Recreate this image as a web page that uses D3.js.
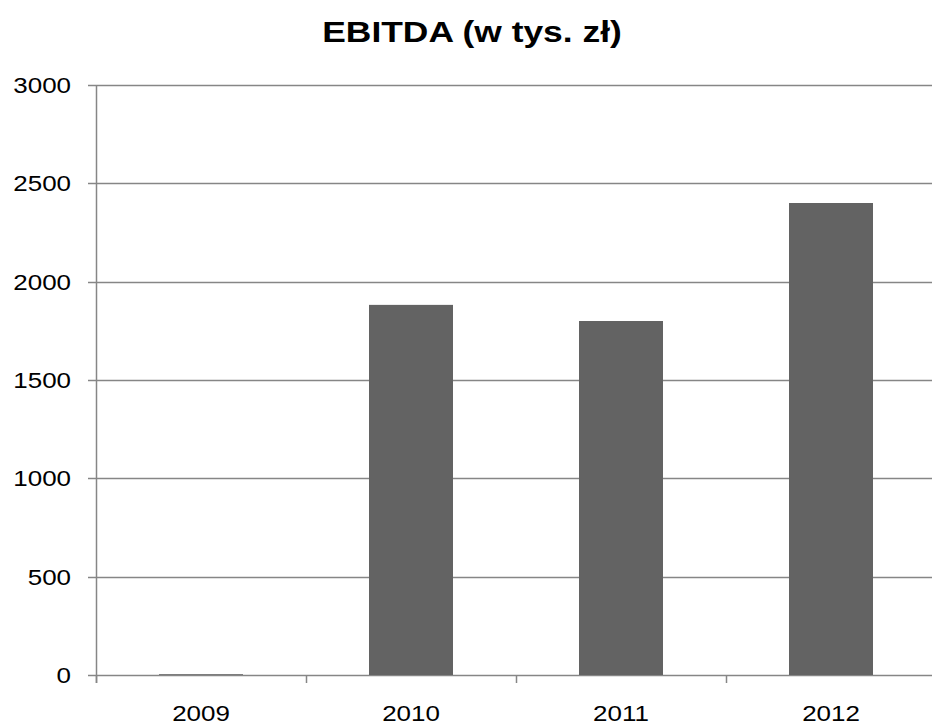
<!DOCTYPE html>
<html>
<head>
<meta charset="utf-8">
<script src="https://cdn.jsdelivr.net/npm/d3@7"></script>
<style>
  html, body { margin: 0; padding: 0; background: #fff; }
  svg { display: block; font-family: Arial, "Liberation Sans", sans-serif; }
</style>
</head>
<body>
<div id="chart"></div>
<script>
// EBITDA by year, thousands of PLN
const years = ["2009", "2010", "2011", "2012"];
const ebitda = [4, 1882, 1800, 2400];
const yTicks = [0, 500, 1000, 1500, 2000, 2500, 3000];
const chartTitle = "EBITDA (w tys. zł)";

const W = 932, H = 726;
const margin = { left: 96, top: 85, bottom: 51 };
const plotRight = 936;
const stretch = 1.18; // horizontal widening of the lettering

const svg = d3.select("#chart").append("svg")
  .attr("width", W).attr("height", H);

const x = d3.scaleBand()
  .domain(years)
  .range([margin.left, plotRight])
  .paddingInner(0.6)
  .paddingOuter(0.3);

const y = d3.scaleLinear()
  .domain([0, 3000])
  .range([H - margin.bottom, margin.top]);

const axisColor = "#868686";

// widened text helper
function label(parent, tx, ty, str, anchor, size, weight) {
  parent.append("g")
    .attr("transform", `translate(${tx},${ty}) scale(${stretch},1)`)
    .append("text")
    .attr("text-anchor", anchor)
    .attr("font-size", size)
    .attr("font-weight", weight || "normal")
    .attr("fill", "#000")
    .text(str);
}

// horizontal gridlines with left ticks
const grid = svg.append("g");
grid.selectAll("line")
  .data(yTicks)
  .join("line")
  .attr("x1", margin.left - 8)
  .attr("x2", W)
  .attr("y1", d => Math.round(y(d)) + 0.5)
  .attr("y2", d => Math.round(y(d)) + 0.5)
  .attr("stroke", axisColor)
  .attr("stroke-width", 1.5);

// y tick labels
yTicks.forEach(t => label(svg, 71, y(t) + 8, String(t), "end", 22));

// bars
svg.append("g").selectAll("rect")
  .data(years.map((yr, i) => ({ yr, v: ebitda[i] })))
  .join("rect")
  .attr("x", d => x(d.yr))
  .attr("y", d => y(d.v))
  .attr("width", x.bandwidth())
  .attr("height", d => y(0) - y(d.v))
  .attr("fill", "#636363");

// y axis line
svg.append("line")
  .attr("x1", margin.left + 0.5).attr("x2", margin.left + 0.5)
  .attr("y1", y(3000)).attr("y2", y(0) + 8)
  .attr("stroke", axisColor).attr("stroke-width", 1.5);

// category boundary ticks below the baseline
const step = x.step();
const bounds = d3.range(years.length + 1).map(i => margin.left + i * step);
svg.append("g").selectAll("line")
  .data(bounds)
  .join("line")
  .attr("x1", d => d + 0.5).attr("x2", d => d + 0.5)
  .attr("y1", y(0)).attr("y2", y(0) + 8)
  .attr("stroke", axisColor).attr("stroke-width", 1.5);

// x labels
years.forEach(yr => label(svg, x(yr) + x.bandwidth() / 2, 721, yr, "middle", 22));

// title
label(svg, 472, 42, chartTitle, "middle", 30, "bold");
</script>
</body>
</html>
